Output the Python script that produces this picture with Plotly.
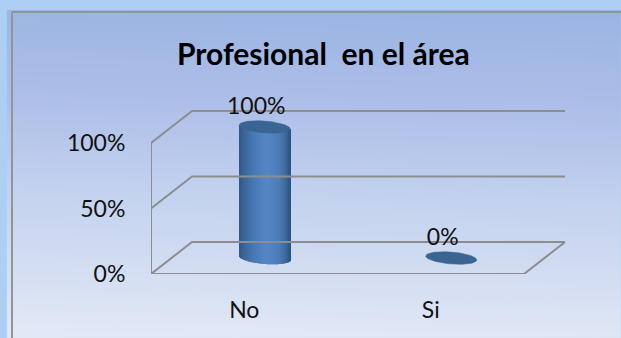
import numpy as np
import plotly.graph_objects as go

# Chart content
title = "Profesional\u00a0\u00a0en el área"
categories = ["No", "Si"]
values = [100, 0]
value_labels = ["100%", "0%"]
y_ticks = [0, 50, 100]
y_tick_labels = ["0%", "50%", "100%"]

W, H = 621, 338
PX, PR = 151, 524          # front plane left and right, in page pixels
PT, PB = 143, 274          # front plane 100% and 0%, in page pixels
xu = (PR - PX) / 2.0       # pixels per category
yu = (PB - PT) / 100.0     # pixels per percent
depth_x = 41 / xu          # depth offset of the back plane, in axis units
depth_y = 32 / yu

# Axis window: wide enough to hold the back plane and the value labels
AX_R, AX_T = 590, 80
xl, xr = -0.5, 1.5
x_max = xl + (AX_R - PX) / xu
y_max = (PB - AX_T) / yu

GRID = "#8c8d90"
FONT = "Lato, Carlito, Calibri, sans-serif"
fig = go.Figure()

# Panel background: a soft, slightly diagonal gradient
gx = np.linspace(12, W, 60)
gy = np.linspace(12, H, 80)
gxx, gyy = np.meshgrid(gx, gy)
gz = (gyy - 12) / (H - 12) + 0.05 * (W - gxx) / W
fig.add_trace(go.Heatmap(
    x=gx, y=gy, z=gz, zsmooth="best", showscale=False, hoverinfo="skip",
    colorscale=[[0, "#9ab4e2"], [0.3, "#aebfe8"], [0.55, "#c2d1ee"], [1, "#e3e9f6"]],
    xaxis="x", yaxis="y",
))

# Back walls and floor of the box
def wall(xs, ys):
    fig.add_trace(go.Scatter(
        x=xs, y=ys, mode="lines", line=dict(color=GRID, width=2),
        hoverinfo="skip", showlegend=False,
        xaxis="x2", yaxis="y2",
    ))

for v in y_ticks:
    wall([xl, xl + depth_x, xr + depth_x], [v, v + depth_y, v + depth_y])
wall([xl, xl], [y_ticks[0], y_ticks[-1]])
wall([xl, xr, xr + depth_x], [0, 0, depth_y])

# Cylinders: vertical strips shaded across the width, with an elliptical cap
half_w = 25.5 / xu
cap_h = 6.0 / yu
tilt = -2.0 / yu            # rise of the ellipse axis across the half width
stops_t = [0.0, 0.12, 0.3, 0.55, 0.8, 0.93, 1.0]
stops_r = [0x30, 0x3c, 0x4a, 0x55, 0x4a, 0x3c, 0x2e]
stops_g = [0x58, 0x68, 0x7a, 0x87, 0x7b, 0x65, 0x52]
stops_b = [0x88, 0x9c, 0xb6, 0xc8, 0xb6, 0x98, 0x78]

for i, (cat, val) in enumerate(zip(categories, values)):
    cx = i + depth_x / 2
    cy = depth_y / 2
    if val > 0:
        edges = np.linspace(-1, 1, 52)
        mids = (edges[:-1] + edges[1:]) / 2
        t = (mids + 1) / 2
        colors = [
            f"rgb({int(np.interp(a, stops_t, stops_r))},"
            f"{int(np.interp(a, stops_t, stops_g))},"
            f"{int(np.interp(a, stops_t, stops_b))})" for a in t
        ]
        low = cy + tilt * mids - cap_h * np.sqrt(1 - mids ** 2)
        top = cy + val + tilt * mids
        fig.add_trace(go.Bar(
            x=cx + mids * half_w, y=top - low, base=low,
            width=half_w * 2 / 51 * 1.15,
            marker=dict(color=colors, line=dict(width=0)),
            hoverinfo="skip", showlegend=False,
            xaxis="x2", yaxis="y2",
        ))
    a = np.linspace(0, 2 * np.pi, 80)
    fig.add_trace(go.Scatter(
        x=cx + half_w * np.cos(a),
        y=cy + val + tilt * np.cos(a) + cap_h * np.sin(a),
        mode="lines", fill="toself", fillcolor="#3a6493",
        line=dict(color="#3a6493", width=0.5),
        hoverinfo="skip", showlegend=False,
        xaxis="x2", yaxis="y2",
    ))

# Value labels above each cylinder
fig.add_trace(go.Scatter(
    x=[i + depth_x / 2 - 8.5 / xu for i in range(len(categories))],
    y=[v + depth_y / 2 + 19 / yu for v in values],
    mode="text", text=value_labels, textposition="middle center",
    textfont=dict(family=FONT, size=23, color="#111111"),
    hoverinfo="skip", showlegend=False,
    xaxis="x2", yaxis="y2",
))

# Thin frame of the panel
shapes = [
    dict(type="line", xref="x", yref="y", x0=12, x1=12, y0=12, y1=H,
         line=dict(color="#8f9599", width=2), layer="above"),
    dict(type="line", xref="x", yref="y", x0=12, x1=W, y0=12, y1=12,
         line=dict(color="#8f9599", width=2), layer="above"),
]

fig.update_layout(
    width=W, height=H, autosize=False,
    margin=dict(l=0, r=0, t=0, b=0, pad=0, autoexpand=False),
    paper_bgcolor="#aecff4", plot_bgcolor="rgba(0,0,0,0)",
    barmode="overlay", showlegend=False, shapes=shapes,
    font=dict(family=FONT, size=23, color="#111111"),
    xaxis=dict(domain=[0, 1], range=[0, W], visible=False, fixedrange=True),
    yaxis=dict(domain=[0, 1], range=[H, 0], visible=False, fixedrange=True),
    xaxis2=dict(
        domain=[PX / W, AX_R / W], range=[xl, x_max], anchor="y2",
        tickvals=[0, 1], ticktext=categories, showgrid=False, zeroline=False,
        showline=False, ticks="outside", ticklen=15, tickcolor="rgba(0,0,0,0)",
        tickfont=dict(family=FONT, size=23, color="#111111"),
    ),
    yaxis2=dict(
        domain=[1 - PB / H, 1 - AX_T / H], range=[0, y_max], anchor="x2",
        tickvals=y_ticks, ticktext=y_tick_labels, showgrid=False, zeroline=False,
        showline=False, ticks="outside", ticklen=20, tickcolor="rgba(0,0,0,0)",
        tickfont=dict(family=FONT, size=23, color="#111111"),
    ),
    annotations=[dict(
        text=f"<b>{title}</b>", xref="paper", yref="paper",
        x=323 / W, y=1 - 53 / H, xanchor="center", yanchor="middle",
        showarrow=False, font=dict(family=FONT, size=30, color="#000000"),
    )],
)

fig.write_html("out.html", config=dict(displayModeBar=False))
